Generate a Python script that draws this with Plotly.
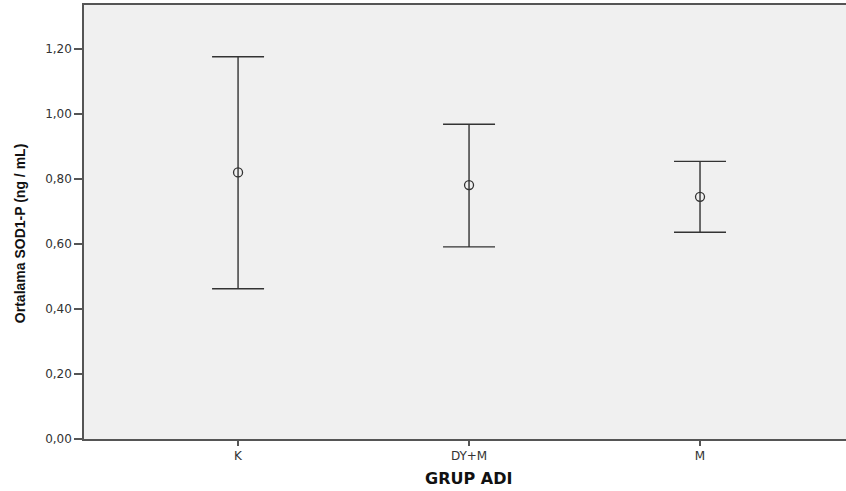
import plotly.graph_objects as go

groups = ["K", "DY+M", "M"]
means = [0.82, 0.781, 0.745]
upper = [1.176, 0.968, 0.854]
lower = [0.462, 0.591, 0.636]
y_ticks = [0, 0.2, 0.4, 0.6, 0.8, 1.0, 1.2]

err_plus = [u - m for u, m in zip(upper, means)]
err_minus = [m - l for m, l in zip(means, lower)]

fig = go.Figure()
fig.add_trace(go.Scatter(
    x=groups, y=means, mode="markers",
    marker=dict(symbol="circle-open", size=9, color="#333333", line=dict(width=1.3, color="#333333")),
    error_y=dict(type="data", symmetric=False, array=err_plus, arrayminus=err_minus,
                 color="#333333", thickness=1.4, width=26),
    showlegend=False,
))

fig.update_layout(
    width=846, height=491,
    margin=dict(l=84, r=0, t=5, b=52),
    plot_bgcolor="#f0f0f0", paper_bgcolor="white",
    separators=",.",
    font=dict(family="DejaVu Sans, Liberation Sans, Arial, sans-serif", color="#333333", size=12),
)
fig.update_xaxes(
    type="category", range=[-0.667, 2.632],
    showgrid=False, zeroline=False,
    showline=True, linecolor="#555555", linewidth=1.5, mirror=True,
    ticks="outside", ticklen=5, tickcolor="#555555", tickwidth=1.5,
    tickfont=dict(size=12),
)
fig.update_yaxes(
    range=[0, 1.335], tickvals=y_ticks, tickformat=".2f",
    showgrid=False, zeroline=False,
    showline=True, linecolor="#555555", linewidth=1.5,
    ticks="outside", ticklen=8, tickcolor="#555555", tickwidth=1.5,
    tickfont=dict(size=12),
)
fig.add_annotation(
    text="<b>Ortalama SOD1-P (ng / mL)</b>", textangle=-90,
    xref="paper", yref="paper", x=0, y=0.472, xshift=-64,
    xanchor="center", yanchor="middle", showarrow=False,
    font=dict(family="Liberation Sans, Arial, sans-serif", size=14, color="#111111"),
)
fig.add_annotation(
    text="<b>GRUP ADI</b>",
    xref="paper", yref="paper", x=0.505, y=0, yshift=-39,
    xanchor="center", yanchor="middle", showarrow=False,
    font=dict(family="DejaVu Sans, sans-serif", size=16, color="#111111"),
)

fig.write_html("out.html", config={"displayModeBar": False},
               post_script="document.body.style.margin='0';")
